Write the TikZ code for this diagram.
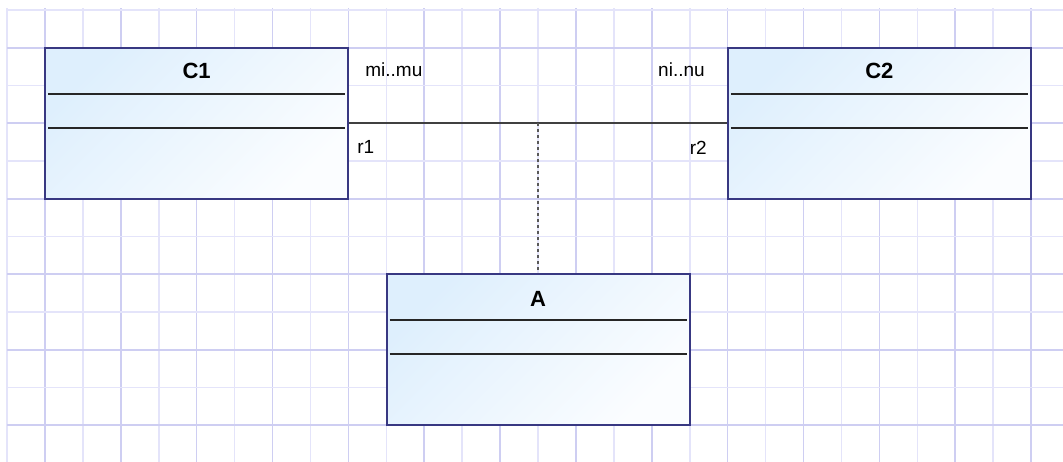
\documentclass[tikz,border=0pt]{standalone}
\usepackage{fontspec}
\setmainfont{Liberation Sans}
\definecolor{gridlight}{RGB}{228,228,250}
\definecolor{griddark}{RGB}{206,206,242}
\definecolor{classborder}{RGB}{56,56,130}
\definecolor{classtop}{RGB}{222,239,253}
\definecolor{classbottom}{RGB}{251,253,255}
\tikzset{gridline/.style={line width=1.6pt},
 class/.style={draw=classborder,line width=2pt,top color=classtop,
   bottom color=classbottom,shading angle=45,minimum width=303pt,
   minimum height=151pt,inner sep=0pt},
 compartment/.style={draw=black!85,line width=1.8pt},
 classname/.style={font=\fontsize{22}{26}\selectfont\bfseries,inner sep=0pt,anchor=base},
 rolelabel/.style={font=\fontsize{19}{22}\selectfont,inner sep=0pt},
 assoc/.style={draw=black!75,line width=2pt},
 assocclass/.style={draw=black!65,line width=2.2pt,dash pattern=on 3pt off 3pt},
 }

\begin{document}
\begin{tikzpicture}[x=37.93pt,y=-37.75pt]
    \useasboundingbox (-0.1846,-0.2649) rectangle (27.8407,11.9735);
    \foreach \i in {0,2,...,26}
        \draw[gridline,gridlight] (\i,-0.05) -- (\i,11.9735);
    \foreach \i in {1,3,...,27}
        \draw[gridline,griddark] (\i,-0.05) -- (\i,11.9735);
    \foreach \j in {0,2,...,10}
        \draw[gridline,gridlight] (0,\j) -- (27.8407,\j);
    \foreach \j in {1,3,...,11}
        \draw[gridline,griddark] (0,\j) -- (27.8407,\j);
    \node[class] (c1) at (5,3) {};
    \node[class] (c2) at (23,3) {};
    \node[class] (a) at (14,9) {};
    \draw[assoc] (c1.east) -- coordinate (mid) (c2.west);
    \draw[assocclass] (mid) -- (a.north);
    \foreach \n in {c1,c2,a}{
        \draw[compartment] ([xshift=4pt,yshift=-47pt]\n.north west) -- ([xshift=-4pt,yshift=-47pt]\n.north east);
        \draw[compartment] ([xshift=4pt,yshift=-81pt]\n.north west) -- ([xshift=-4pt,yshift=-81pt]\n.north east);
    }
    \node[classname] (c1name) at ([yshift=-32pt]c1.north) {C1};
    \node[classname] (c2name) at ([yshift=-32pt]c2.north) {C2};
    \node[classname] (aname) at ([yshift=-33pt]a.north) {A};
    \node[rolelabel,anchor=base west] (c1mult) at ([xshift=16pt,yshift=-30pt]c1.north east) {mi..mu};
    \node[rolelabel,anchor=base west] (c1role) at ([xshift=8pt,yshift=-30pt]c1.east) {r1};
    \node[rolelabel,anchor=base east] (c2mult) at ([xshift=-22pt,yshift=-30pt]c2.north west) {ni..nu};
    \node[rolelabel,anchor=base east] (c2role) at ([xshift=-20pt,yshift=-31pt]c2.west) {r2};
\end{tikzpicture}
\end{document}
